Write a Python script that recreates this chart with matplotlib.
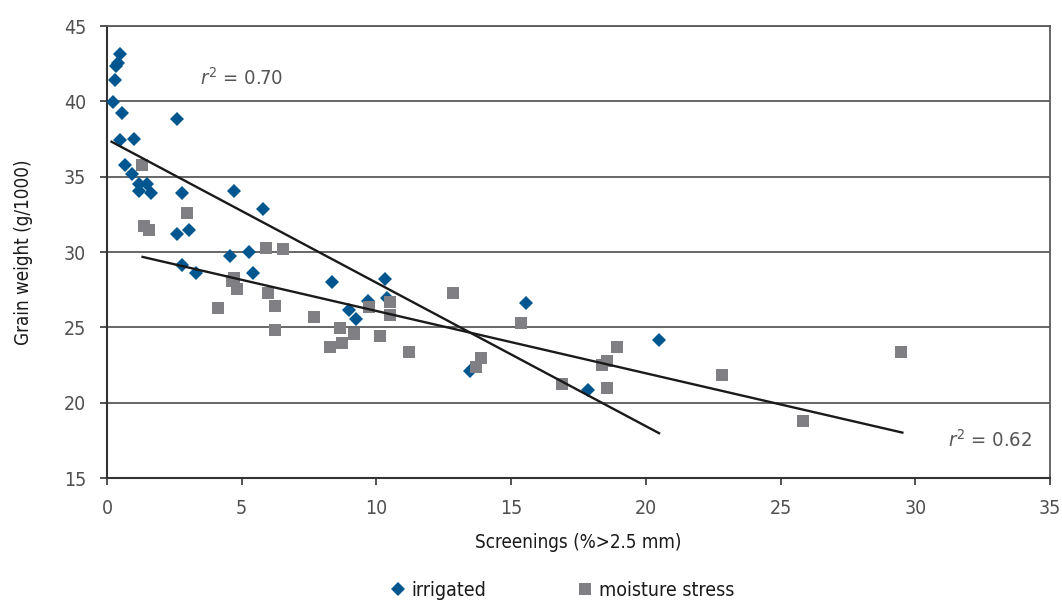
import matplotlib
matplotlib.use("Agg")
import matplotlib.pyplot as plt
import numpy as np

# ---- data ----
irr_x = [0.48, 0.42, 0.32, 0.30, 0.21, 0.57, 2.60, 0.48, 1.01, 0.66, 0.93, 1.20, 1.47, 1.20,
         1.63, 2.78, 4.73, 5.79, 2.60, 3.06, 4.57, 5.27, 2.78, 3.32, 5.43, 8.36, 8.98, 9.25,
         9.70, 10.32, 10.38, 13.49, 15.54, 17.84, 20.49]
irr_y = [43.14, 42.52, 42.35, 41.42, 39.98, 39.25, 38.81, 37.44, 37.52, 35.80, 35.18, 34.52,
         34.52, 34.03, 33.90, 33.90, 34.05, 32.88, 31.18, 31.46, 29.74, 30.02, 29.14, 28.59,
         28.59, 28.01, 26.15, 25.58, 26.77, 28.19, 26.93, 22.13, 26.60, 20.85, 24.14]

ms_x = [1.29, 2.96, 1.36, 1.56, 5.89, 6.52, 4.73, 4.65, 4.81, 5.98, 4.12, 6.24, 7.68, 6.24,
        8.65, 8.72, 8.28, 9.73, 10.50, 10.50, 9.17, 10.13, 11.21, 12.86, 15.36, 13.88, 13.68,
        18.92, 18.55, 18.37, 16.88, 18.55, 22.83, 29.47, 25.82]
ms_y = [35.80, 32.61, 31.73, 31.46, 30.29, 30.18, 28.30, 28.10, 27.57, 27.30, 26.31, 26.44,
        25.71, 24.85, 24.98, 23.98, 23.72, 26.33, 26.71, 25.84, 24.58, 24.45, 23.39, 27.30,
        25.29, 22.99, 22.39, 23.72, 22.79, 22.50, 21.26, 21.00, 21.84, 23.37, 18.79]

# trend lines: slope, intercept, x-range
irr_fit = (-0.952, 37.48)
irr_range = (0.17, 20.49)
ms_fit = (-0.4135, 30.22)
ms_range = (1.32, 29.52)

r2_labels = ["0.70", "0.62"]
series_names = ["irrigated", "moisture stress"]
x_ticks = [0, 5, 10, 15, 20, 25, 30, 35]
y_ticks = [15, 20, 25, 30, 35, 40, 45]

# ---- style ----
plt.rcParams["font.family"] = ["DejaVu Sans"]
plt.rcParams["font.stretch"] = "condensed"
plt.rcParams["mathtext.fontset"] = "custom"
plt.rcParams["mathtext.rm"] = "DejaVu Sans:stretch=condensed"
plt.rcParams["mathtext.it"] = "DejaVu Sans:italic:stretch=condensed"

BLUE = "#00568f"
GREY = "#808084"
TXT = "#505050"

fig = plt.figure(figsize=(10.62, 6.03), dpi=100)
ax = fig.add_axes([107/1062, 1-478/603, (1050-107)/1062, (478-26)/603])

ax.set_xlim(0, 35)
ax.set_ylim(15, 45)
ax.set_xticks(x_ticks)
ax.set_yticks(y_ticks)
ax.yaxis.grid(True, color="#5a5a5a", linewidth=1.3)
ax.set_axisbelow(True)
for s in ["top", "right"]:
    ax.spines[s].set_color("#5a5a5a")
    ax.spines[s].set_linewidth(1.3)
for s in ["left", "bottom"]:
    ax.spines[s].set_color("#333333")
    ax.spines[s].set_linewidth(1.5)
ax.tick_params(axis="both", direction="out", length=5, width=1.2, color="#333333",
               labelsize=14, labelcolor=TXT)
ax.tick_params(axis="x", pad=10)
ax.tick_params(axis="y", pad=10)

ax.plot(irr_x, irr_y, linestyle="none", marker="D", markersize=7.5, color=BLUE,
        markeredgewidth=0, label=series_names[0], zorder=3)
ax.plot(ms_x, ms_y, linestyle="none", marker="s", markersize=8.5, color=GREY,
        markeredgewidth=0, label=series_names[1], zorder=4)

xi = np.array(irr_range)
ax.plot(xi, irr_fit[0]*xi + irr_fit[1], color="#1a1a1a", linewidth=1.7, zorder=5)
xm = np.array(ms_range)
ax.plot(xm, ms_fit[0]*xm + ms_fit[1], color="#1a1a1a", linewidth=1.7, zorder=5)

ax.text(3.45, 41.55, r"$r^2$ = " + r2_labels[0], fontsize=14.5, color="#555555",
        va="center", ha="left")
ax.text(31.2, 17.5, r"$r^2$ = " + r2_labels[1], fontsize=14.5, color="#555555",
        va="center", ha="left")

ax.set_xlabel("Screenings (%>2.5 mm)", fontsize=13.5, color="#1a1a1a", labelpad=11)
ax.set_ylabel("Grain weight (g/1000)", fontsize=13.5, color="#1a1a1a", labelpad=22)

fig.legend(loc="center", bbox_to_anchor=(561/1062, 1-590/603), ncol=2, frameon=False,
           fontsize=14, handletextpad=0.2, columnspacing=4.6, handlelength=1.0,
           labelcolor="#1a1a1a")

fig.savefig("out.png", dpi=100)
